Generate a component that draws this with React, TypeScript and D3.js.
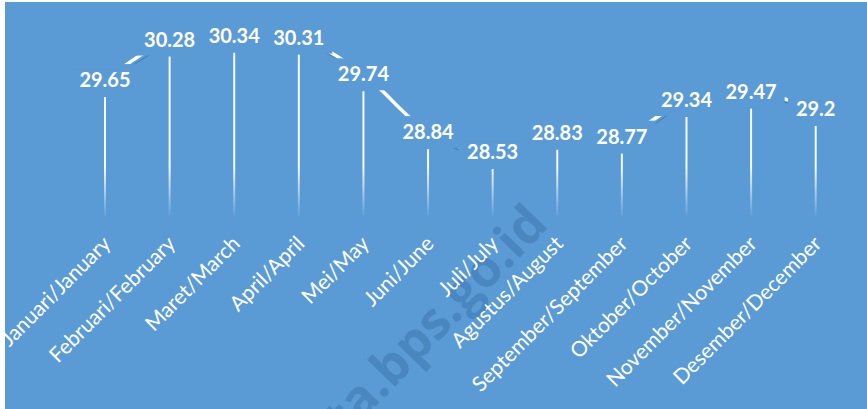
import React, { useMemo } from "react";
import * as d3 from "d3";

const months = [
  "Januari/January",
  "Februari/February",
  "Maret/March",
  "April/April",
  "Mei/May",
  "Juni/June",
  "Juli/July",
  "Agustus/August",
  "September/September",
  "Oktober/October",
  "November/November",
  "Desember/December",
];
const values = [29.65, 30.28, 30.34, 30.31, 29.74, 28.84, 28.53, 28.83, 28.77, 29.34, 29.47, 29.2];
const valueLabels = ["29.65", "30.28", "30.34", "30.31", "29.74", "28.84", "28.53", "28.83", "28.77", "29.34", "29.47", "29.2"];
const yDomain = [27.8, 30.6];
const watermark = "ta.bps.go.id";

const W = 867;
const H = 409;
const BG = "#5B9BD5";
const LABEL_FONT = "Lato, 'Open Sans', sans-serif";

export default function App() {
  const x = d3.scaleBand<string>().domain(months).range([72.7, 848]);
  const y = d3.scaleLinear().domain(yDomain).range([216, 36]);
  const cx = (m: string) => (x(m) as number) + x.bandwidth() / 2;
  const lineOffset = 17;
  const pts: [number, number][] = months.map((m, i) => [cx(m), y(values[i]) - lineOffset]);
  const linePath = d3.line().curve(d3.curveCardinal.tension(0))(pts) || "";

  const measure = useMemo(() => {
    const ctx = document.createElement("canvas").getContext("2d")!;
    ctx.font = "bold 20px Lato";
    return (s: string) => ctx.measureText(s).width;
  }, []);

  const base = y(yDomain[0]);

  return (
    <svg width={W} height={H} style={{ position: "absolute", left: 0, top: 0 }}>
      <defs>
        <linearGradient id="drop" gradientUnits="userSpaceOnUse" x1="0" y1="36" x2="0" y2={base + 2}>
          <stop offset="0.72" stopColor="#ffffff" stopOpacity={0.95} />
          <stop offset="1" stopColor="#ffffff" stopOpacity={0} />
        </linearGradient>
      </defs>
      <rect x={0} y={0} width={W} height={H} fill="#ffffff" />
      <rect x={5} y={2} width={W - 5} height={H - 2} fill={BG} />

      <text
        transform="translate(550,226) rotate(-46)"
        textAnchor="end"
        fontFamily="'Open Sans', sans-serif"
        fontWeight="bold"
        fontSize={51}
        fill="#4A86C0"
      >
        {watermark}
      </text>

      {months.map((m, i) => (
        <line
          key={"d" + i}
          x1={cx(m)}
          x2={cx(m)}
          y1={y(values[i])}
          y2={base}
          stroke="url(#drop)"
          strokeWidth={2}
        />
      ))}

      <path d={linePath} transform="translate(2,4)" fill="none" stroke="#2F5F8F" strokeOpacity={0.55} strokeWidth={1} />
      <path d={linePath} fill="none" stroke="#ffffff" strokeWidth={3.5} strokeLinecap="round" />

      {months.map((m, i) => {
        const w = measure(valueLabels[i]) + 16;
        const cy = y(values[i]) - lineOffset;
        return (
          <g key={"l" + i}>
            <rect x={cx(m) - w / 2} y={cy - 16} width={w} height={32} fill={BG} />
            <text
              x={cx(m)}
              y={y(values[i]) - 10}
              textAnchor="middle"
              fontFamily={LABEL_FONT}
              fontWeight="bold"
              fontSize={20}
              fill="#ffffff"
            >
              {valueLabels[i]}
            </text>
          </g>
        );
      })}

      {months.map((m, i) => (
        <text
          key={"c" + i}
          transform={`translate(${cx(m) + 7},245) rotate(-45)`}
          textAnchor="end"
          fontFamily={LABEL_FONT}
          fontSize={21}
          fill="#ffffff"
        >
          {m}
        </text>
      ))}
    </svg>
  );
}
